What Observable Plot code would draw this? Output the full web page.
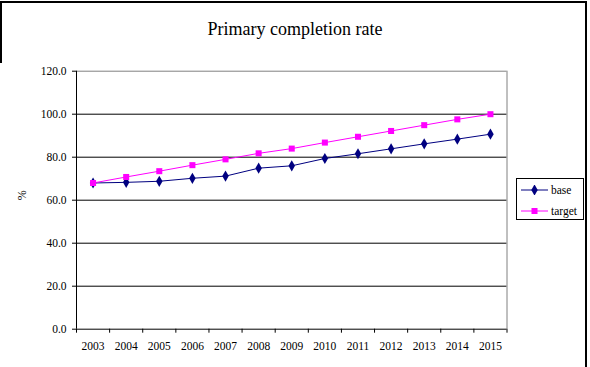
<!DOCTYPE html>
<html>
<head>
<meta charset="utf-8">
<script src="https://cdn.jsdelivr.net/npm/d3@7"></script>
<script src="https://cdn.jsdelivr.net/npm/@observablehq/plot@0.6"></script>
<style>
  html, body { margin: 0; padding: 0; background: #fff; }
  #wrap { position: relative; width: 590px; height: 367px; overflow: hidden; font-family: "Liberation Serif", "Times New Roman", serif; }
  #title { position: absolute; left: 0; width: 590px; top: 19px; text-align: center; font-size: 18px; color: #000; }
  #frame { position: absolute; left: 0; top: 1px; width: 585px; height: 400px; border-top: 2px solid #000; border-right: 2px solid #000; }
  #leftedge { position: absolute; left: 0; top: 1px; width: 2px; height: 62px; background: #000; }
  #legend { position: absolute; left: 516px; top: 178px; width: 66px; height: 40px; border: 1px solid #000; background: #fff; font-size: 11.5px; }
  .item { position: absolute; left: 4px; height: 16px; display: flex; align-items: center; }
  .item svg { display: block; }
  .item span { margin-left: 2px; }
  #chart { position: absolute; left: 0; top: 0; }
</style>
</head>
<body>
<div id="wrap">
  <div id="chart"></div>
  <div id="frame"></div>
  <div id="leftedge"></div>
  <div id="title">Primary completion rate</div>
  <div id="legend"></div>
</div>
<script>
const years = [2003, 2004, 2005, 2006, 2007, 2008, 2009, 2010, 2011, 2012, 2013, 2014, 2015];
const base = [68.0, 68.3, 68.8, 70.2, 71.2, 74.9, 76.0, 79.4, 81.6, 83.9, 86.2, 88.4, 90.7];
const target = [68.0, 70.8, 73.5, 76.3, 79.0, 81.8, 84.0, 86.8, 89.5, 92.2, 94.9, 97.6, 100.0];
const yTicks = [0, 20, 40, 60, 80, 100, 120];
const seriesNames = ["base", "target"];
const seriesColors = ["#000080", "#FF00FF"];
const seriesSymbols = ["diamond", "square"];

const rows = [];
years.forEach((yr, i) => {
  rows.push({year: yr, value: base[i], series: "base"});
  rows.push({year: yr, value: target[i], series: "target"});
});

const xMin = years[0] - 0.5, xMax = years[years.length - 1] + 0.5;
const boundaries = years.map(y => y - 0.5).concat([xMax]);

const chart = Plot.plot({
  width: 590,
  height: 367,
  marginLeft: 76,
  marginRight: 83.5,
  marginTop: 70.7,
  marginBottom: 38.3,
  style: {fontFamily: "'Liberation Serif', 'Times New Roman', serif", fontSize: "11.5px", color: "#000", background: "transparent"},
  x: {domain: [xMin, xMax]},
  y: {domain: [0, 120]},
  color: {domain: seriesNames, range: seriesColors},
  symbol: {domain: seriesNames, range: seriesSymbols},
  marks: [
    Plot.ruleY(yTicks.filter(d => d > 0 && d < 120), {stroke: "#000", strokeWidth: 1}),
    Plot.ruleY([120], {stroke: "#808080", strokeWidth: 1}),
    Plot.ruleX([xMax], {stroke: "#808080", strokeWidth: 1}),
    Plot.ruleX([xMin], {stroke: "#000", strokeWidth: 1}),
    Plot.ruleY([0], {stroke: "#000", strokeWidth: 1}),
    Plot.axisY({ticks: yTicks, tickFormat: d3.format(".1f"), tickSize: 4, tickPadding: 6, label: null}),
    Plot.axisX({ticks: boundaries, tickSize: 4, tickFormat: () => "", label: null}),
    Plot.axisX({ticks: years, tickSize: 0, tickPadding: 13, tickFormat: d => String(d), label: null}),
    Plot.text(["%"], {frameAnchor: "left", rotate: -90, dx: -54, fontSize: 12}),
    Plot.line(rows, {x: "year", y: "value", stroke: "series", strokeWidth: 1}),
    Plot.dot(rows, {x: "year", y: "value", fill: "series", symbol: "series", r: 3.4, stroke: "none"})
  ]
});
document.getElementById("chart").appendChild(chart);

// legend
const legend = document.getElementById("legend");
seriesNames.forEach((name, i) => {
  const item = document.createElement("div");
  item.className = "item";
  item.style.top = (i === 0 ? 3 : 24) + "px";
  const sym = d3.symbol(i === 0 ? d3.symbolDiamond : d3.symbolSquare, Math.PI * 3.4 * 3.4)();
  item.innerHTML = `<svg width="28" height="10"><line x1="0" x2="27" y1="5" y2="5" stroke="${seriesColors[i]}" stroke-width="1"/><path d="${sym}" transform="translate(13.5,5)" fill="${seriesColors[i]}"/></svg><span>${name}</span>`;
  legend.appendChild(item);
});
</script>
</body>
</html>
